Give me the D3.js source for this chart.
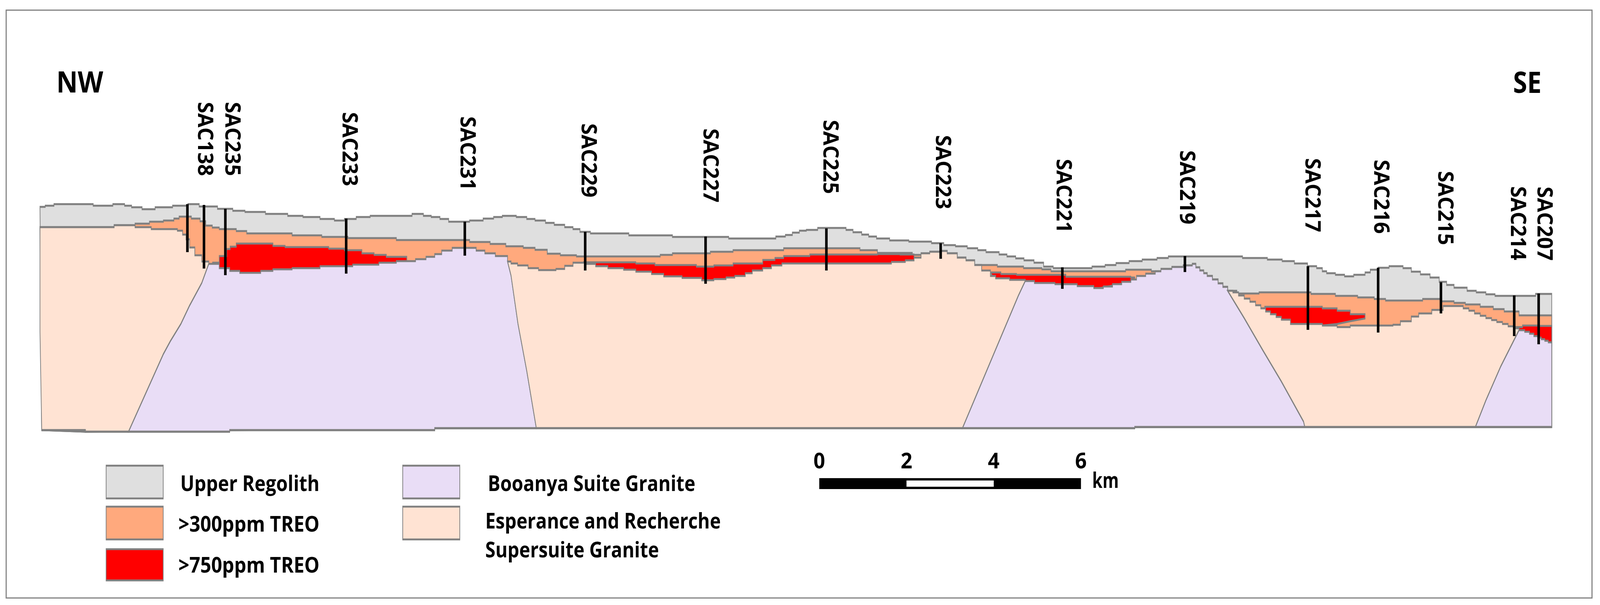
<!DOCTYPE html>
<html>
<head>
<meta charset="utf-8">
<script src="https://d3js.org/d3.v7.min.js"></script>
<style>
  html, body { margin: 0; padding: 0; background: #fff; overflow: hidden; }
  text { font-family: "Open Sans", sans-serif; font-weight: 700; fill: #000; }
</style>
</head>
<body>
<script>
// section data: [km along section, height above section base]
var surface = [[0,570],[0.12,573],[0.32,577],[1.22,573],[1.67,577],[1.94,573],[2.10,569],[2.34,564],[2.64,569],[3.04,573],[3.39,577],[3.65,571],[4.07,565],[4.42,560],[4.70,557],[5.17,552],[5.68,547],[6.03,544],[6.42,539],[6.75,535],[6.98,539],[7.25,544],[7.57,547],[8.53,552],[8.79,547],[8.97,544],[9.17,539],[9.37,532],[9.85,535],[10.16,540],[10.40,544],[10.60,547],[10.92,544],[11.16,539],[11.35,535],[11.59,529],[11.79,524],[12.03,518],[12.22,513],[12.38,506],[12.62,502],[13.50,497],[14.50,493],[15.79,489],[16.87,494],[17.09,498],[17.25,504],[17.41,509],[17.57,511],[17.83,516],[18.48,511],[18.64,505],[18.84,499],[19.00,494],[19.18,489],[19.48,484],[19.92,481],[20.44,477],[20.72,472],[20.99,469],[21.26,464],[21.50,459],[21.69,454],[21.99,448],[22.17,443],[22.37,438],[22.56,433],[22.79,427],[23.01,417],[23.23,413],[24.12,417],[24.42,421],[24.67,426],[24.97,431],[25.27,435],[25.61,439],[25.87,443],[27.57,439],[28.14,435],[28.48,431],[28.76,425],[29.06,418],[29.27,413],[29.40,405],[29.50,400],[29.70,396],[29.91,392],[30.12,396],[30.38,402],[30.50,409],[30.68,414],[30.93,418],[31.25,413],[31.44,404],[31.65,397],[31.87,389],[32.08,378],[32.25,370],[32.42,363],[32.72,355],[32.93,351],[33.15,346],[33.36,342],[34.29,347],[34.66,347]];

var regolithBase = [[0,518],[1.70,523],[2.18,527],[2.51,532],[2.83,535],[3.07,540],[3.19,545],[3.47,540],[3.67,533],[3.80,522],[3.95,517],[4.11,513],[4.50,508],[4.74,502],[5.78,497],[6.46,493],[7.06,490],[8.17,485],[9.85,480],[10.32,475],[10.68,469],[11.08,465],[11.35,460],[11.63,450],[11.93,446],[12.30,443],[14.22,447],[14.50,451],[15.37,455],[15.89,459],[17.05,464],[18.80,459],[19.20,452],[20.00,447],[20.20,451],[20.40,455],[20.64,457],[20.80,451],[21.03,440],[21.23,433],[21.43,421],[21.95,417],[22.55,413],[22.97,410],[23.18,405],[24.89,409],[25.48,405],[25.70,411],[25.95,416],[26.21,420],[26.42,424],[26.50,415],[26.59,407],[26.68,400],[26.76,393],[26.88,384],[27.01,374],[27.12,365],[27.23,355],[27.44,348],[27.95,351],[29.14,347],[29.70,342],[30.21,338],[30.59,334],[30.85,330],[31.70,334],[32.12,328],[32.42,324],[32.68,320],[33.02,314],[33.32,308],[33.57,302],[33.91,292],[34.66,292]];

// tops of the granite blocks
var esperanceWestTop = [[0,518],[1.70,523],[2.18,518],[2.55,513],[3.15,509],[3.27,499],[3.35,487],[3.43,466],[3.55,446],[3.71,430],[3.87,424]];
var booanyaWestTop = [[3.87,424],[4.11,413],[4.35,406],[4.58,401],[5.06,406],[5.34,410],[5.78,413],[6.42,418],[7.17,422],[7.77,427],[8.17,431],[8.61,436],[8.85,442],[9.05,449],[9.21,458],[9.45,465],[10.00,458],[10.20,451],[10.44,444],[10.72,430]];
var esperanceMidTop = [[10.72,430],[10.80,425],[10.95,420],[11.19,413],[11.43,408],[11.83,411],[12.03,419],[12.22,427],[12.46,428],[12.52,424],[12.74,418],[13.02,413],[13.38,409],[13.66,404],[14.02,398],[14.30,392],[14.72,388],[15.17,382],[15.45,385],[15.73,389],[15.93,393],[16.17,400],[16.33,407],[16.57,413],[16.77,420],[17.01,425],[19.52,429],[19.84,433],[20.04,440],[20.20,451],[20.40,455],[20.64,457],[20.80,451],[21.03,440],[21.23,433],[21.43,421],[21.59,407],[21.79,393],[21.91,387],[22.23,383],[22.59,380]];
var booanyaMidTop = [[22.59,380],[22.80,375],[23.27,372],[23.78,367],[24.16,362],[24.38,366],[24.59,372],[24.80,378],[25.01,384],[25.14,393],[25.35,399],[25.57,405],[25.70,411],[25.95,416],[26.21,420],[26.42,424],[26.50,415],[26.59,407],[26.68,400],[26.76,393],[26.88,384],[27.01,374],[27.12,365],[27.23,355]];
var esperanceEastTop = [[27.23,355],[27.35,351],[27.48,343],[27.61,335],[27.74,327],[27.87,318],[27.99,310],[28.10,302],[28.21,295],[28.34,288],[28.46,281],[28.67,270],[29.40,266],[29.74,262],[30.04,266],[31.02,268],[31.19,277],[31.44,289],[31.61,297],[31.91,306],[32.17,316],[32.42,316],[32.63,310],[32.76,304],[32.89,297],[33.02,291],[33.15,285],[33.28,280],[33.40,275],[33.53,270],[33.66,264],[33.78,259],[33.91,254]];
var booanyaEastTop = [[33.91,254],[34.04,250],[34.15,245],[34.25,239],[34.34,235],[34.42,231],[34.50,227],[34.58,223],[34.66,219]];

// contacts and bottom of the blocks, run clockwise
var esperanceWestSide = [[3.87,424],[3.71,375],[3.43,317],[3.23,270],[2.99,226],[2.83,193],[2.03,-6],[1.04,-6],[1.04,-2],[0.04,-2],[0,250]];
var booanyaWestSide = [[10.72,430],[10.80,394],[10.96,270],[11.16,150],[11.38,3],[9.05,3],[9.05,-2],[4.35,-2],[4.35,-6],[2.03,-6],[2.83,193],[2.99,226],[3.23,270],[3.43,317],[3.71,375]];
var esperanceMidSide = [[22.59,380],[22.43,342],[21.15,3],[11.38,3],[11.16,150],[10.96,270],[10.80,394]];
var booanyaMidSide = [[27.23,355],[27.61,285],[28.04,202],[28.46,123],[28.97,20],[29.00,6],[25.10,6],[25.10,3],[21.15,3],[22.43,342]];
var esperanceEastSide = [[33.91,254],[33.49,161],[33.15,74],[32.91,6],[29.00,6],[28.97,20],[28.46,123],[28.04,202],[27.61,285]];
var booanyaEastSide = [[34.66,219],[34.66,6],[32.91,6],[33.15,74],[33.49,161]];
var sectionBase = [[0.04,-2],[1.04,-6],[4.35,-2],[9.05,3],[25.10,6],[34.66,6]];

// >750ppm lenses: top edge, then an underside that mostly sits under the granite
var redWestTop = [[3.95,427],[4.11,444],[4.28,462],[4.36,468],[4.50,476],[5.34,470],[5.62,467],[6.62,463],[6.98,459],[7.38,451],[7.66,447],[7.94,442],[8.41,436]];
var redWestUnder = [[8.41,420],[6,395],[4.2,400]];
var redMidTop = [[12.52,428],[13.66,425],[14.10,421],[15.05,417],[15.45,420],[15.89,425],[16.57,434],[16.85,439],[17.05,444],[17.65,448],[19.20,449],[19.72,448],[20.04,445]];
var redMidUnder = [[20.04,425],[15,375],[12.52,410]];
var redGullyTop = [[21.79,402],[22.03,398],[22.39,396],[23.52,391],[25.01,389],[25.10,391]];
var redGullyUnder = [[25.10,380],[24,355],[21.9,380]];
var redLensTop = [[27.99,310],[28.08,314],[29.14,314],[29.40,310],[29.74,304],[30.04,295],[30.38,284]];
var redLensUnder = [[30.04,277],[29.74,270],[29.40,266],[28.67,270],[28.46,281],[28.21,295]];
var redEastTop = [[33.83,262],[33.99,266],[34.34,265],[34.66,260]];
var redEastUnder = [[34.66,215],[33.91,240]];

// drill holes
var holeKm = [3.38,3.76,4.25,7.02,9.74,12.50,15.26,18.03,20.65,23.44,26.25,29.07,30.68,32.12,33.80,34.36];
var holeTop = [577,575,565,540,532,506,494,515,477,415,444,418,414,377,343,348];
var holeBottom = [454,412,395,399,445,407,373,407,437,360,403,255,248,297,239,218];

var holeNames = ["SAC138","SAC235","SAC233","SAC231","SAC229","SAC227","SAC225","SAC223","SAC221","SAC219","SAC217","SAC216","SAC215","SAC214","SAC207"];
var legendLeft = ["Upper Regolith",">300ppm TREO",">750ppm TREO"];
var legendRight = ["Booanya Suite Granite","Esperance and Recherche","Supersuite Granite"];
var scaleTicks = [0,2,4,6];

var C = { grey: "#dfdfdf", orange: "#ffa97d", red: "#ff0000", lilac: "#e9ddf6", peach: "#ffe3d3", line: "#808080" };

var width = 4402, height = 1550;
var stretch = 2.4;   // the original was pulled tall, so flat lines come out thick and steep ones thin

var x = d3.scaleLinear().domain([0, 35]).range([110, 4310]);
var y = d3.scaleLinear().domain([0, 1100]).range([1100, 0]);
var yFlat = function (v) { return y(v) / stretch; };

var stepLine = d3.line().x(function (d) { return x(d[0]); }).y(function (d) { return yFlat(d[1]); }).curve(d3.curveStepAfter);
var plainLine = d3.line().x(function (d) { return x(d[0]); }).y(function (d) { return yFlat(d[1]); });

function block(top, side) {
  return stepLine(top) + plainLine(side).replace("M", "L") + "Z";
}

// the window can come up narrower than asked, so always fill it
var svg = d3.select("body").append("svg")
  .attr("viewBox", "0 0 " + width + " " + height)
  .attr("preserveAspectRatio", "none")
  .style("width", "100vw")
  .style("height", "100vh")
  .style("display", "block");

svg.append("rect")
  .attr("x", 17).attr("y", 26).attr("width", 4363).attr("height", 1506)
  .attr("fill", "#fff").attr("stroke", C.line).attr("stroke-width", 3);

var flat = svg.append("g").attr("transform", "scale(1," + stretch + ")")
  .attr("stroke", C.line).attr("stroke-width", 2);

// regolith and orange go in whole, the granite blocks cover what lies below them
var rev = sectionBase.slice().reverse();
flat.append("path").attr("fill", C.grey).attr("d", block(surface, rev));
flat.append("path").attr("fill", C.orange).attr("d", block(regolithBase, rev));

[[redWestTop, redWestUnder], [redMidTop, redMidUnder], [redGullyTop, redGullyUnder],
 [redLensTop, redLensUnder], [redEastTop, redEastUnder]].forEach(function (r) {
  flat.append("path").attr("fill", C.red).attr("d", block(r[0], r[1]));
});

[[esperanceWestTop, esperanceWestSide, C.peach],
 [booanyaWestTop, booanyaWestSide, C.lilac],
 [esperanceMidTop, esperanceMidSide, C.peach],
 [booanyaMidTop, booanyaMidSide, C.lilac],
 [esperanceEastTop, esperanceEastSide, C.peach],
 [booanyaEastTop, booanyaEastSide, C.lilac]].forEach(function (b) {
  flat.append("path").attr("fill", b[2]).attr("d", block(b[0], b[1]));
});

flat.append("path").attr("fill", "none").attr("d", stepLine(sectionBase));

// drill holes
svg.selectAll(".hole").data(holeKm).enter().append("line")
  .attr("class", "hole")
  .attr("x1", function (d) { return x(d); })
  .attr("x2", function (d) { return x(d); })
  .attr("y1", function (d, i) { return y(holeTop[i]); })
  .attr("y2", function (d, i) { return y(holeBottom[i]); })
  .attr("stroke", "#000")
  .attr("stroke-width", 7);

// hole labels read downwards
var labelX = [545,620,942,1267,1600,1936,2265,2575,2907,3247,3592,3781,3957,4157,4230];
var labelY = [261,261,287,298,316,329,307,346,407,385,405,409,438,477,478];
svg.selectAll(".holeName").data(holeNames).enter().append("text")
  .attr("class", "holeName")
  .attr("transform", function (d, i) { return "translate(" + labelX[i] + "," + labelY[i] + ") rotate(90)"; })
  .attr("font-size", 58)
  .attr("textLength", 190)
  .attr("lengthAdjust", "spacingAndGlyphs")
  .text(function (d) { return d; });

function label(txt, px, py, size, len) {
  svg.append("text").attr("x", px).attr("y", py)
    .attr("font-size", size)
    .attr("textLength", len)
    .attr("lengthAdjust", "spacingAndGlyphs")
    .text(txt);
}

label("NW", 155, 237, 76, 129);
label("SE", 4163, 238, 76, 78);

// legend
var swatches = [
  [292, 1193, 84, C.grey], [292, 1298, 84, C.orange], [292, 1407, 80, C.red],
  [1108, 1193, 84, C.lilac], [1108, 1298, 84, C.peach]
];
swatches.forEach(function (s) {
  flat.append("rect")
    .attr("x", s[0]).attr("y", s[1] / stretch)
    .attr("width", 157).attr("height", s[2] / stretch)
    .attr("fill", s[3]);
});
label(legendLeft[0], 496, 1258, 56, 383);
label(legendLeft[1], 491, 1362, 56, 388);
label(legendLeft[2], 491, 1467, 56, 388);
label(legendRight[0], 1342, 1258, 56, 571);
label(legendRight[1], 1335, 1354, 56, 648);
label(legendRight[2], 1335, 1428, 56, 478);

// scale bar, same km as the section
var barLeft = 2254;
var barX = function (km) { return barLeft + x(km) - x(0); };
svg.append("rect").attr("x", barX(0)).attr("y", 1225).attr("width", barX(6) - barX(0)).attr("height", 28).attr("fill", "#000");
svg.append("rect").attr("x", barX(2)).attr("y", 1231).attr("width", barX(4) - barX(2)).attr("height", 16).attr("fill", "#fff");
svg.selectAll(".tick").data(scaleTicks).enter().append("text")
  .attr("class", "tick")
  .attr("x", function (d) { return barX(d); })
  .attr("y", 1200)
  .attr("text-anchor", "middle")
  .attr("font-size", 56)
  .text(function (d) { return d; });
label("km", 3005, 1250, 56, 73);
</script>
</body>
</html>
